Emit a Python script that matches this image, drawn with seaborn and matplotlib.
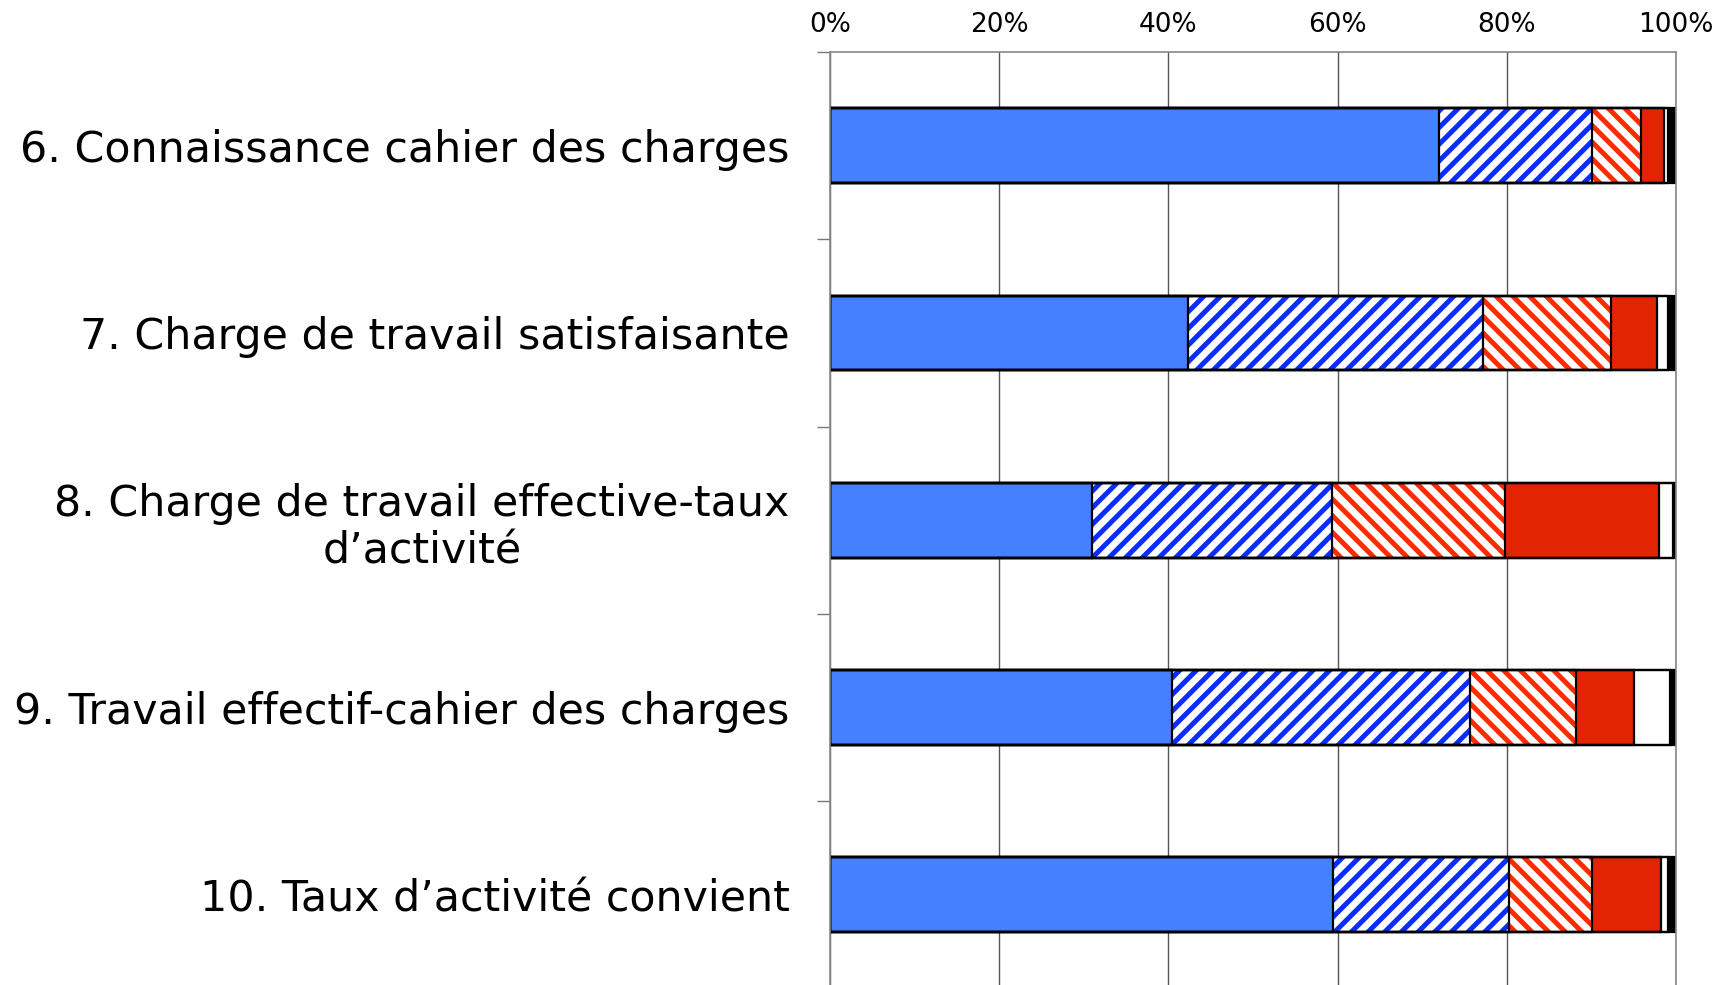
import matplotlib
matplotlib.use("Agg")
import matplotlib.pyplot as plt
from matplotlib.ticker import FixedLocator
import numpy as np
import pandas as pd
import seaborn as sns

# ---------------- data ----------------
categories = [
    "6. Connaissance cahier des charges",
    "7. Charge de travail satisfaisante",
    "8. Charge de travail effective-taux\nd\u2019activit\u00e9",
    "9. Travail effectif-cahier des charges",
    "10. Taux d\u2019activit\u00e9 convient",
]
tout_a_fait = [72.0, 42.3, 31.0, 40.4, 59.4]
plutot_oui = [18.1, 34.9, 28.3, 35.2, 20.9]
plutot_non = [5.8, 15.1, 20.5, 12.6, 9.8]
pas_du_tout = [2.7, 5.4, 18.2, 6.8, 8.1]
sans_avis = [0.5, 1.3, 1.7, 4.3, 0.9]
non_repondu = [0.9, 1.0, 0.3, 0.7, 0.9]
tick_values = [0, 20, 40, 60, 80, 100]
tick_labels = ["0%", "20%", "40%", "60%", "80%", "100%"]

series = [tout_a_fait, plutot_oui, plutot_non, pas_du_tout, sans_avis, non_repondu]
# styles: (facecolor, hatch, hatchcolor)
styles = [
    ("#4480FF", None, None),
    ("white", "//", "#0A2DFF"),
    ("white", "\\\\", "#FF2A00"),
    ("#E32400", None, None),
    ("white", None, None),
    ("black", None, None),
]

# ---------------- theme ----------------
sns.set_theme(style="white")
plt.rcParams["font.family"] = ["DejaVu Sans"]
plt.rcParams["hatch.linewidth"] = 3.6
plt.rcParams["text.color"] = "black"
plt.rcParams["xtick.labelcolor"] = "black"
plt.rcParams["ytick.labelcolor"] = "black"

fig = plt.figure(figsize=(17.35, 9.85), dpi=100)
ax = fig.add_axes([0.4784, -0.0036, 0.4876, 0.9508])

cum = np.cumsum(np.array(series), axis=0)
df = pd.DataFrame({"cat": categories})

# filled layers, drawn from the largest cumulative total to the smallest
for i in range(len(series) - 1, -1, -1):
    fc, hatch, hc = styles[i]
    df["val"] = cum[i]
    kws = dict(linewidth=0)
    if hatch:
        kws.update(hatch=hatch, edgecolor=hc)
    else:
        kws.update(edgecolor=fc)
    sns.barplot(data=df, x="val", y="cat", orient="h", color=fc,
                saturation=1, width=0.4, errorbar=None, ax=ax, **kws)

# outlines
for i in range(len(series) - 1, -1, -1):
    df["val"] = cum[i]
    sns.barplot(data=df, x="val", y="cat", orient="h", fill=False,
                color="black", saturation=1, width=0.4, errorbar=None,
                ax=ax, linewidth=1.6)

ax.set_xlim(0, 100)
ax.set_ylim(4.5, -0.5)
ax.set_xlabel("")
ax.set_ylabel("")

ax.xaxis.tick_top()
ax.set_xticks(tick_values)
ax.set_xticklabels(tick_labels, fontsize=19, color="black")
ax.tick_params(axis="x", length=0, pad=10)

ax.set_yticks(range(len(categories)))
ax.set_yticklabels(categories, fontsize=30.8, multialignment="center",
                   linespacing=1.16, color="black")
ax.tick_params(axis="y", which="major", length=0, pad=29)
ax.yaxis.set_minor_locator(FixedLocator(np.arange(-0.5, 5, 1.0)))
ax.tick_params(axis="y", which="minor", left=True, length=9.5, width=1,
               color="#777777")

ax.xaxis.grid(True, color="#555555", linewidth=1)
ax.yaxis.grid(False)
ax.set_axisbelow(True)
for s in ["top", "left", "right"]:
    ax.spines[s].set_visible(True)
    ax.spines[s].set_color("#888888")
    ax.spines[s].set_linewidth(1.2)
ax.spines["bottom"].set_visible(False)

fig.savefig("out.png", dpi=100)
